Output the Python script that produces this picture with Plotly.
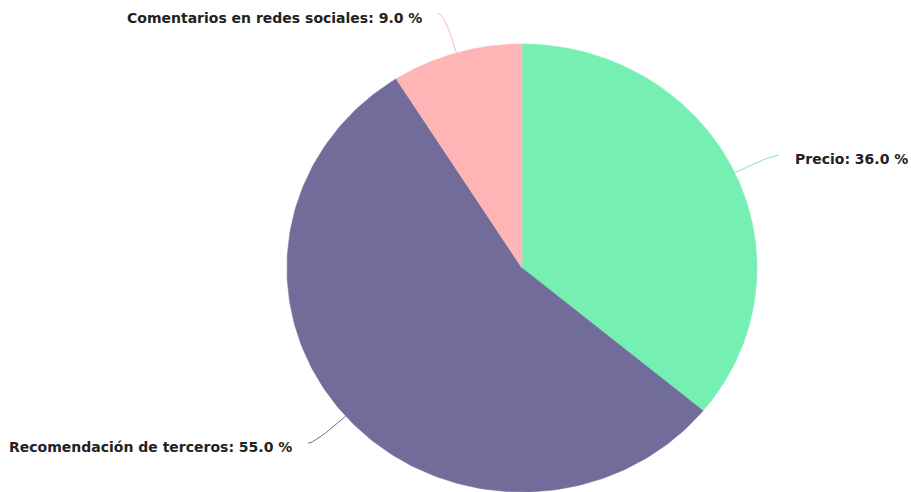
import numpy as np
import plotly.graph_objects as go

# Share of responses by purchase driver
labels = ["Precio", "Recomendación de terceros", "Comentarios en redes sociales"]
values = [36.0, 55.0, 9.0]
colors = ["#76EFB3", "#726C9B", "#FFB5B5"]

# Page geometry (pixel space)
W, H = 911, 492
CX, CY = 522, 268      # pie centre
RX, RY = 235, 224      # pie radii
LINE1 = 41             # radial leader segment
LINE2 = 7              # horizontal leader segment
GAP = 14               # space between leader end and label

fig = go.Figure()

total = sum(values)
start = 0.0
annotations = []
for lab, val, col in zip(labels, values, colors):
    sweep = 360.0 * val / total
    a = np.radians(np.linspace(start, start + sweep, 200))
    xs = np.concatenate([[CX], CX + RX * np.sin(a), [CX]])
    ys = np.concatenate([[CY], CY - RY * np.cos(a), [CY]])
    fig.add_trace(go.Scatter(x=xs, y=ys, mode="lines", fill="toself",
                             fillcolor=col, line=dict(color=col, width=0.6),
                             hoverinfo="skip", showlegend=False))

    # smoothed two-part leader line: radial, then horizontal
    mid = np.radians(start + sweep / 2)
    ux, uy = np.sin(mid), -np.cos(mid)
    side = 1 if ux >= 0 else -1
    p0 = np.array([CX + RX * ux, CY + RY * uy])
    p1 = p0 + LINE1 * np.array([ux, uy])
    p2 = p1 + np.array([side * LINE2, 0.0])
    t = np.linspace(0, 1, 30)[:, None]
    curve = (1 - t) ** 2 * p0 + 2 * (1 - t) * t * p1 + t ** 2 * p2
    fig.add_trace(go.Scatter(x=curve[:, 0], y=curve[:, 1], mode="lines",
                             line=dict(color=col, width=1),
                             hoverinfo="skip", showlegend=False))
    annotations.append(dict(
        x=p2[0] + side * GAP, y=p2[1], yshift=-4,
        xref="x", yref="y", showarrow=False,
        text=f"{lab}: {val:.1f} %",
        xanchor="left" if side > 0 else "right", yanchor="middle",
        font=dict(family="DejaVu Sans", size=14, color="#222222", weight="bold"),
    ))
    start += sweep

fig.update_layout(
    width=W, height=H,
    margin=dict(l=0, r=0, t=0, b=0),
    paper_bgcolor="white", plot_bgcolor="white",
    xaxis=dict(range=[0, W], visible=False, fixedrange=True),
    yaxis=dict(range=[H, 0], visible=False, fixedrange=True),
    annotations=annotations,
)

fig.write_html("out.html")
